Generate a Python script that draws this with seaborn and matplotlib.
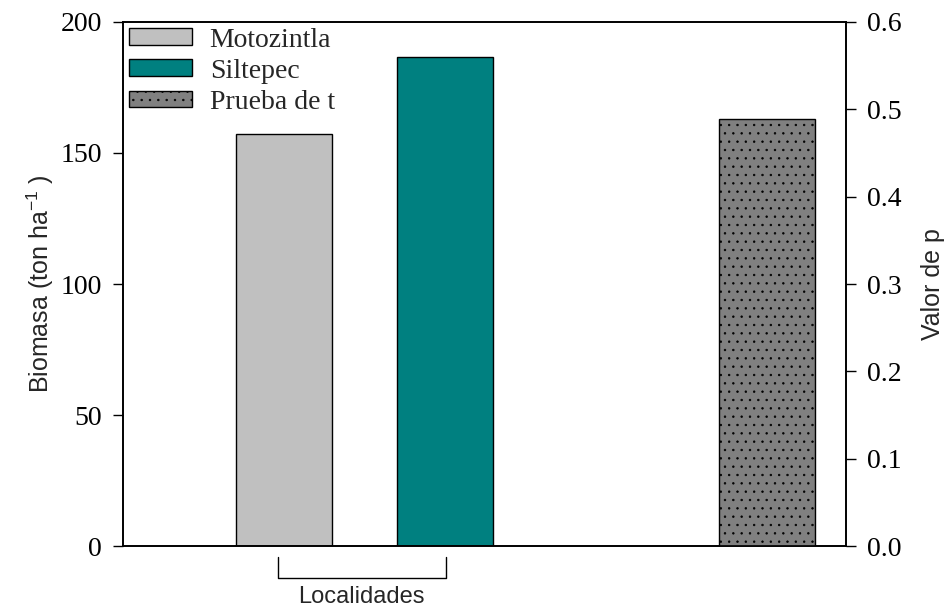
import matplotlib
matplotlib.use("Agg")
import matplotlib.pyplot as plt
import seaborn as sns
import pandas as pd
from matplotlib.patches import Patch
from matplotlib.transforms import blended_transform_factory

# Biomass by locality and t-test p value
localidades = ["Motozintla", "Siltepec"]
biomasa = [157.3, 186.6]
prueba_label = "Prueba de t"
valor_p = [0.489]
colores = ["#c0c0c0", "#008080"]
color_prueba = "#808080"

sns.set_theme(style="ticks")
plt.rcParams["font.family"] = ["Liberation Serif", "DejaVu Serif"]
plt.rcParams["hatch.linewidth"] = 0.5

fig = plt.figure(figsize=(9.52, 6.09), dpi=100)
ax = fig.add_axes([0.1292, 0.1034, 0.7595, 0.8605])

df_bio = pd.DataFrame({"pos": [1, 2], "biomasa": biomasa, "localidad": localidades})
sns.barplot(data=df_bio, x="pos", y="biomasa", hue="localidad",
            hue_order=localidades, palette=colores, native_scale=True,
            width=0.6, saturation=1, edgecolor="black", linewidth=1,
            legend=False, ax=ax)

ax2 = ax.twinx()
df_p = pd.DataFrame({"pos": [4], "p": valor_p})
sns.barplot(data=df_p, x="pos", y="p", native_scale=True, width=0.6,
            saturation=1, color=color_prueba, edgecolor="black",
            linewidth=1, hatch="..", ax=ax2)

ax.set_xlim(0, 4.49)
ax2.set_xlim(0, 4.49)
ax.set_ylim(0, 200)
ax2.set_ylim(0, 0.6)
ax.set_yticks([0, 50, 100, 150, 200])
ptick = [0.0, 0.1, 0.2, 0.3, 0.4, 0.5, 0.6]
ax2.set_yticks(ptick)
ax2.set_yticklabels([f"{v:.1f}" for v in ptick])
ax.set_xticks([])
ax2.set_xticks([])
ax.set_xlabel("")
ax2.set_xlabel("")

for a in (ax, ax2):
    for s in a.spines.values():
        s.set_visible(True)
        s.set_color("black")
        s.set_linewidth(1.2)
ax.tick_params(axis="y", left=True, right=False, direction="out",
               length=7, width=1, labelsize=20, pad=8, colors="black")
ax2.tick_params(axis="y", right=True, left=False, direction="out",
                length=7, width=1, labelsize=20, pad=8, colors="black")

ax.set_ylabel("Biomasa (ton ha$^{\\mathregular{-1}}$ )", family="Liberation Sans",
              fontsize=18, labelpad=3)
ax2.set_ylabel("Valor de p", family="Liberation Sans", fontsize=18, labelpad=14)

handles = [Patch(facecolor=c, edgecolor="black", label=l)
           for c, l in zip(colores, localidades)]
handles.append(Patch(facecolor=color_prueba, edgecolor="black",
                     hatch="..", label=prueba_label))
ax2.legend(handles=handles, loc="upper left", frameon=False, fontsize=20,
           handlelength=2.27, handleheight=0.55, labelspacing=0.22,
           handletextpad=0.65, borderaxespad=0.1, borderpad=0.1)

# bracket grouping the two localities
tr = blended_transform_factory(ax.transData, ax.transAxes)
x0, x1 = 0.96, 2.006
ax.plot([x0, x0, x1, x1], [-0.021, -0.061, -0.061, -0.021], color="black",
        lw=1, transform=tr, clip_on=False)
ax.text((x0 + x1) / 2, -0.097, "Localidades", transform=tr, ha="center",
        va="center", family="Liberation Sans", fontsize=17)

fig.savefig("out.png", dpi=100)
